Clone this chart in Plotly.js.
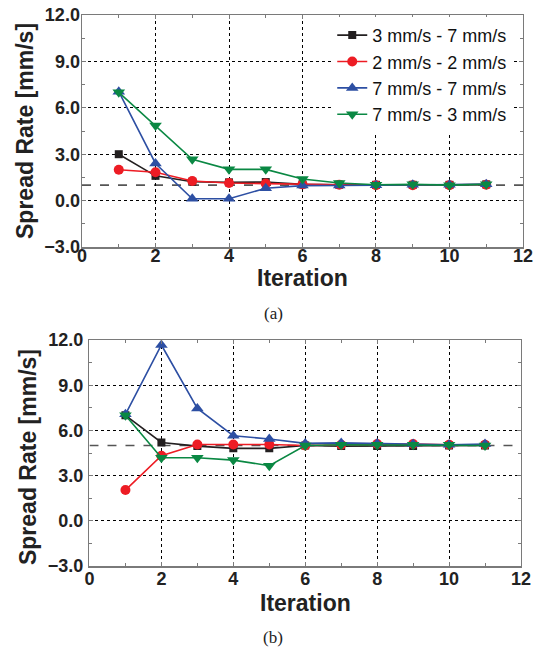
<!DOCTYPE html>
<html>
<head>
<meta charset="utf-8">
<script src="https://cdn.plot.ly/plotly-3.0.1.min.js"></script>
<style>html,body{margin:0;padding:0;background:#fff;}#chart{width:541px;height:650px;}</style>
</head>
<body>
<div id="chart"></div>
<script>
const iterations = [1, 2, 3, 4, 5, 6, 7, 8, 9, 10, 11];
const seriesNames = ['3 mm/s - 7 mm/s', '2 mm/s - 2 mm/s', '7 mm/s - 7 mm/s', '7 mm/s - 3 mm/s'];

// Panel (a)
const a_3_7 = [3.0, 1.6, 1.22, 1.18, 1.2, 1.05, 1.03, 1.02, 1.02, 1.02, 1.05];
const a_2_2 = [2.0, 1.83, 1.27, 1.14, 1.1, 1.05, 1.03, 1.0, 1.0, 1.0, 1.03];
const a_7_7 = [7.04, 2.4, 0.12, 0.12, 0.8, 0.97, 0.98, 1.0, 1.02, 1.02, 1.05];
const a_7_3 = [7.0, 4.85, 2.67, 2.02, 2.02, 1.4, 1.14, 1.03, 1.05, 1.0, 1.05];

// Panel (b)
const b_3_7 = [7.0, 5.2, 4.96, 4.81, 4.81, 5.0, 4.96, 4.96, 4.96, 5.0, 5.0];
const b_2_2 = [2.04, 4.32, 5.07, 5.07, 5.07, 5.0, 5.05, 5.1, 5.1, 5.05, 5.05];
const b_7_7 = [7.07, 11.67, 7.46, 5.65, 5.43, 5.14, 5.17, 5.14, 5.1, 5.05, 5.1];
const b_7_3 = [7.0, 4.19, 4.19, 4.03, 3.66, 5.0, 5.05, 5.05, 5.05, 5.05, 5.0];

const refLevels = [1.0, 5.0];
const xRange = [0, 12];
const yRange = [-3, 12];
const captions = ['(a)', '(b)'];
const xTitle = 'Iteration';
const yTitle = 'Spread Rate [mm/s]';

const colors = ['#231f20', '#ed1c24', '#2d4fa3', '#0a8843'];
const symbols = ['square', 'circle', 'triangle-up', 'triangle-down'];
const msizes = [8, 10, 11, 11];
const font = 'Arial, "Liberation Sans", Helvetica, sans-serif';
const serif = '"Times New Roman", "Liberation Serif", serif';

const panelA = [a_3_7, a_2_2, a_7_7, a_7_3];
const panelB = [b_3_7, b_2_2, b_7_7, b_7_3];

const traces = [];
panelA.forEach((ys, i) => traces.push({
  x: iterations, y: ys, name: seriesNames[i], type: 'scatter', mode: 'lines+markers',
  xaxis: 'x', yaxis: 'y',
  line: {color: colors[i], width: 1.6},
  marker: {color: colors[i], symbol: symbols[i], size: msizes[i]}
}));
panelB.forEach((ys, i) => traces.push({
  x: iterations, y: ys, name: seriesNames[i], type: 'scatter', mode: 'lines+markers',
  xaxis: 'x2', yaxis: 'y2', showlegend: false,
  line: {color: colors[i], width: 1.6},
  marker: {color: colors[i], symbol: symbols[i], size: msizes[i]}
}));

function xax(domain, anchor, standoff) {
  return {
    domain: domain, anchor: anchor, range: xRange, tick0: 0, dtick: 2,
    showline: true, mirror: 'ticks', linecolor: '#7a7a7a', linewidth: 1.5,
    ticks: 'inside', ticklen: 4, tickcolor: '#7a7a7a', tickwidth: 1,
    minor: {dtick: 1, ticks: 'inside', ticklen: 3, tickcolor: '#7a7a7a', showgrid: false},
    showgrid: true, gridcolor: '#000', gridwidth: 1, griddash: 'dot',
    zeroline: false, automargin: false, ticklabelstandoff: standoff,
    tickfont: {family: font, size: 18, weight: 'bold', color: '#222'}
  };
}
function yax(domain, anchor, standoff) {
  return {
    domain: domain, anchor: anchor, range: yRange, tick0: 0, dtick: 3, tickformat: '.1f',
    showline: true, mirror: 'ticks', linecolor: '#7a7a7a', linewidth: 1.5,
    ticks: 'inside', ticklen: 4, tickcolor: '#7a7a7a', tickwidth: 1,
    minor: {dtick: 1.5, ticks: 'inside', ticklen: 3, tickcolor: '#7a7a7a', showgrid: false},
    showgrid: true, gridcolor: '#000', gridwidth: 1, griddash: 'dot',
    zeroline: false, automargin: false, ticklabelstandoff: standoff,
    tickfont: {family: font, size: 18, weight: 'bold', color: '#222'}
  };
}

const shapes = refLevels.map((lv, i) => ({
  type: 'line', xref: i === 0 ? 'x' : 'x2', yref: i === 0 ? 'y' : 'y2',
  x0: xRange[0], x1: xRange[1], y0: lv, y1: lv, layer: 'below',
  line: {color: '#555', width: 1.6, dash: 'dash'}
}));

const titleFont = {family: font, size: 23, weight: 'bold', color: '#222'};
const capFont = {family: serif, size: 17, color: '#222'};
const ann = (text, x, y, f, angle) => ({text: text, xref: 'paper', yref: 'paper', x: x, y: y,
  xanchor: 'center', yanchor: 'middle', showarrow: false, textangle: angle || 0, font: f});

const layout = {
  width: 541, height: 650,
  margin: {l: 0, r: 0, t: 0, b: 0},
  paper_bgcolor: '#fff', plot_bgcolor: '#fff',
  showlegend: true,
  legend: {x: 0.945, xanchor: 'right', y: 0.974, yanchor: 'top', bgcolor: '#fff',
           borderwidth: 0, font: {family: font, size: 18, color: '#111'}, tracegroupgap: 0},
  xaxis: xax([0.1516, 0.9667], 'y', -8),
  yaxis: yax([0.62, 0.9769], 'x', -3),
  xaxis2: xax([0.1654, 0.963], 'y2', -4),
  yaxis2: yax([0.1292, 0.4769], 'x2', 1),
  shapes: shapes,
  annotations: [
    ann(xTitle, 0.5592, 0.5723, titleFont),
    ann(xTitle, 0.5638, 0.0723, titleFont),
    ann(yTitle, 0.0462, 0.7985, titleFont, -90),
    ann(yTitle, 0.0518, 0.2969, titleFont, -90),
    ann(captions[0], 0.505, 0.518, capFont),
    ann(captions[1], 0.505, 0.0185, capFont)
  ]
};

Plotly.newPlot('chart', traces, layout, {displayModeBar: false, staticPlot: true});
</script>
</body>
</html>
